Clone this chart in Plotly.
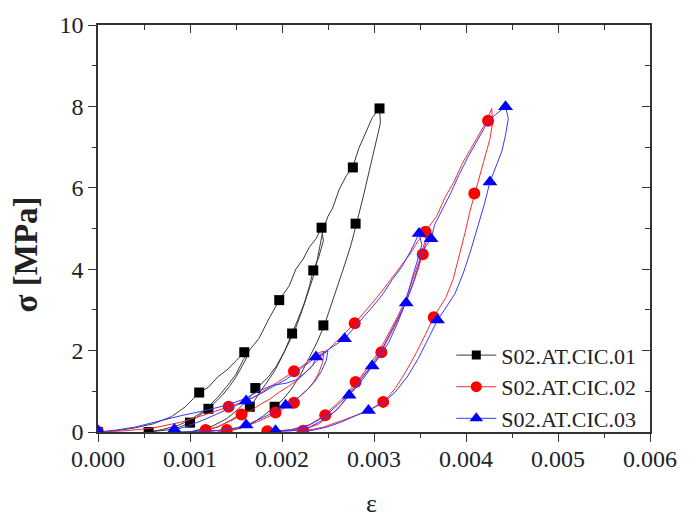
import plotly.graph_objects as go

# ---------------- data (strain, stress MPa) ----------------
# S02.AT.CIC.01 : load1, unload1, load2, unload2, load3, unload3
eps_01 = [
    0.0, 0.0002, 0.0004, 0.0006, 0.0008, 0.00095, 0.0011, 0.0012, 0.0013, 0.0014, 0.0015, 0.00159, 0.00163,
    0.00161, 0.00155, 0.0015, 0.00143, 0.00135, 0.00126, 0.00119, 0.0011, 0.00099, 0.0009, 0.00075, 0.00055,
    0.0007, 0.00088, 0.001, 0.00112, 0.0012, 0.0013, 0.0014, 0.0015, 0.00158, 0.00166, 0.00175, 0.00185, 0.00197,
    0.00208, 0.00215, 0.00223, 0.0023, 0.00237, 0.00243,
    0.00245, 0.0024, 0.00234, 0.0023, 0.00224, 0.00217, 0.00211, 0.00203, 0.00194, 0.00185, 0.00173, 0.00163,
    0.00152, 0.0014, 0.00125, 0.0011, 0.001,
    0.00115, 0.0013, 0.00145, 0.00157, 0.00166, 0.00175, 0.00183, 0.00192, 0.002, 0.00208, 0.00214, 0.00222,
    0.00229, 0.00236, 0.00241, 0.00245, 0.0025, 0.00255, 0.00262, 0.0027, 0.00277, 0.00284, 0.0029, 0.00298, 0.00306,
    0.00307, 0.00304, 0.003, 0.00295, 0.00289, 0.00281, 0.00275, 0.00268, 0.0026, 0.00253, 0.00246, 0.00238,
    0.0023, 0.0022, 0.0021, 0.00201, 0.00192, 0.0018, 0.00168, 0.00155, 0.0014, 0.0013,
]
sig_01 = [
    0.0, 0.03, 0.1, 0.2, 0.38, 0.62, 0.97, 1.1, 1.35, 1.52, 1.75, 1.96, 2.02,
    1.8, 1.55, 1.35, 1.12, 0.9, 0.7, 0.57, 0.4, 0.23, 0.13, 0.05, 0.0,
    0.06, 0.17, 0.3, 0.47, 0.62, 0.85, 1.12, 1.42, 1.78, 2.05, 2.3, 2.75, 3.24,
    3.6, 4.0, 4.25, 4.55, 4.75, 5.02,
    4.7, 4.3, 3.98, 3.6, 3.15, 2.75, 2.42, 2.0, 1.62, 1.35, 1.08, 0.8,
    0.55, 0.33, 0.15, 0.05, 0.0,
    0.04, 0.12, 0.3, 0.47, 0.62, 0.95, 1.2, 1.5, 1.85, 2.2, 2.5, 3.0,
    3.5, 3.95, 4.55, 5.0, 5.3, 5.5, 5.95, 6.3, 6.52, 7.0, 7.3, 7.72, 7.95,
    7.6, 7.3, 6.9, 6.45, 5.85, 5.12, 4.6, 4.1, 3.55, 3.05, 2.62, 2.2,
    1.85, 1.4, 1.05, 0.8, 0.62, 0.4, 0.22, 0.09, 0.02, 0.0,
]
mk_eps_01 = [0.0, 0.00055, 0.001, 0.0011, 0.0012, 0.00159, 0.00171, 0.00165, 0.00192, 0.00197,
             0.00211, 0.00234, 0.00243, 0.00245, 0.00277, 0.0028, 0.00306]
mk_sig_01 = [0.0, 0.0, 0.23, 0.97, 0.57, 1.96, 1.08, 0.62, 0.62, 3.24,
             2.42, 3.97, 5.02, 2.62, 6.5, 5.12, 7.95]

# S02.AT.CIC.02
eps_02 = [
    0.0, 0.0003, 0.0006, 0.0009, 0.0012, 0.00142, 0.00155, 0.00169, 0.00183, 0.00197, 0.00212, 0.00222, 0.00232,
    0.0024, 0.00246,
    0.00244, 0.0024, 0.00235, 0.00228, 0.0022, 0.00212, 0.00202, 0.00192, 0.0018, 0.00168, 0.00155, 0.0014,
    0.00125, 0.0011,
    0.00117, 0.0013, 0.00143, 0.00156, 0.00168, 0.00178, 0.00187, 0.00197, 0.00207, 0.00218, 0.00228, 0.00238,
    0.00248, 0.00258, 0.00268, 0.00279, 0.0029, 0.003, 0.0031, 0.0032, 0.0033, 0.0034, 0.00348, 0.00356,
    0.00357, 0.00353, 0.00348, 0.00342, 0.00335, 0.00327, 0.00318, 0.00308, 0.00298, 0.00289, 0.0028, 0.00271,
    0.0026, 0.0025, 0.0024, 0.0023, 0.0021, 0.00184,
    0.002, 0.00223, 0.0024, 0.00255, 0.00266, 0.00276, 0.00286, 0.00296, 0.00306, 0.00316, 0.00326, 0.00335,
    0.00342, 0.00349, 0.00355, 0.0036, 0.00368, 0.00378, 0.00387, 0.00396, 0.00405, 0.00414, 0.00422, 0.00428,
    0.00429, 0.00426, 0.00421, 0.00415, 0.00409, 0.00404, 0.00399, 0.00393, 0.00386, 0.00378, 0.00371, 0.00365,
    0.00356, 0.00346, 0.00335, 0.00324, 0.00315, 0.00309, 0.00298, 0.00285, 0.0027, 0.00258, 0.00245, 0.0023,
    0.00215,
]
sig_02 = [
    0.0, 0.03, 0.1, 0.24, 0.45, 0.61, 0.72, 0.85, 1.06, 1.25, 1.47, 1.62, 1.8,
    1.95, 1.99,
    1.7, 1.45, 1.25, 1.05, 0.88, 0.73, 0.58, 0.45, 0.32, 0.2, 0.11, 0.05,
    0.02, 0.0,
    0.04, 0.13, 0.26, 0.41, 0.55, 0.7, 0.81, 0.98, 1.12, 1.3, 1.52, 1.75,
    1.98, 2.18, 2.42, 2.67, 2.95, 3.22, 3.5, 3.8, 4.1, 4.4, 4.7, 4.92,
    4.7, 4.38, 4.0, 3.6, 3.2, 2.8, 2.4, 1.97, 1.6, 1.4, 1.22, 0.95,
    0.7, 0.5, 0.32, 0.18, 0.06, 0.0,
    0.02, 0.05, 0.2, 0.45, 0.72, 1.05, 1.35, 1.68, 2.0, 2.42, 2.85, 3.3,
    3.75, 4.2, 4.65, 5.05, 5.3, 5.8, 6.15, 6.6, 6.95, 7.3, 7.62, 7.95,
    7.6, 7.2, 6.8, 6.3, 5.86, 5.4, 4.9, 4.35, 3.75, 3.3, 3.05, 2.83,
    2.4, 1.95, 1.5, 1.1, 0.85, 0.74, 0.58, 0.45, 0.32, 0.22, 0.12, 0.05,
    0.0,
]
mk_eps_02 = [0.0, 0.00117, 0.0014, 0.00142, 0.00156, 0.00184, 0.00193, 0.00213, 0.00213, 0.00223,
             0.00247, 0.00279, 0.0028, 0.00308, 0.0031, 0.00353, 0.00356, 0.00365, 0.00409, 0.00424]
mk_sig_02 = [0.0, 0.05, 0.05, 0.62, 0.43, 0.02, 0.48, 0.72, 1.49, 0.03,
             0.41, 2.67, 1.23, 1.96, 0.74, 4.37, 4.92, 2.82, 5.86, 7.65]

# S02.AT.CIC.03
eps_03 = [
    0.0, 0.0002, 0.0004, 0.00068, 0.0009, 0.00115, 0.0014, 0.0016, 0.00176, 0.0019, 0.00205, 0.00215, 0.00225,
    0.00233, 0.00237, 0.00245, 0.0025,
    0.00248, 0.00243, 0.00236, 0.00228, 0.00218, 0.00204, 0.00192, 0.0018, 0.0017, 0.00161, 0.0015, 0.0013,
    0.0011, 0.00085,
    0.00083, 0.00098, 0.00115, 0.0013, 0.00145, 0.00161, 0.00175, 0.0019, 0.00205, 0.0022, 0.00237, 0.0025,
    0.00268, 0.0028, 0.0029, 0.003, 0.0031, 0.0032, 0.0033, 0.0034, 0.00349,
    0.00352, 0.00347, 0.00341, 0.00334, 0.00326, 0.00316, 0.00306, 0.00298, 0.00288, 0.00279, 0.00271, 0.0026,
    0.0025, 0.0024, 0.00228, 0.0021, 0.00193,
    0.0021, 0.0023, 0.00245, 0.0026, 0.00273, 0.00285, 0.00296, 0.00308, 0.00318, 0.00327, 0.00335, 0.00343,
    0.0035, 0.00356, 0.00362, 0.00366, 0.00374, 0.00383, 0.00392, 0.00402, 0.00412, 0.00422, 0.00432, 0.00443,
    0.00446, 0.00443, 0.00439, 0.00432, 0.00426, 0.0042, 0.00413, 0.00405, 0.00397, 0.00388, 0.00378, 0.00369,
    0.00358, 0.00348, 0.00336, 0.00323, 0.0031, 0.00294, 0.0028, 0.00265, 0.0025, 0.00235, 0.0022,
]
sig_03 = [
    0.0, 0.05, 0.12, 0.28, 0.4, 0.52, 0.66, 0.82, 1.02, 1.15, 1.2, 1.28, 1.45,
    1.62, 1.82, 1.92, 2.0,
    1.75, 1.5, 1.25, 1.05, 0.85, 0.66, 0.5, 0.36, 0.25, 0.17, 0.1, 0.04,
    0.02, 0.0,
    0.05, 0.15, 0.3, 0.45, 0.6, 0.76, 0.92, 1.1, 1.3, 1.55, 1.84, 2.02,
    2.29, 2.6, 2.85, 3.12, 3.4, 3.75, 4.05, 4.45, 4.88,
    4.6, 4.2, 3.75, 3.16, 2.7, 2.2, 1.85, 1.62, 1.3, 1.05, 0.88, 0.65,
    0.45, 0.3, 0.15, 0.05, 0.02,
    0.03, 0.12, 0.3, 0.55, 0.9, 1.25, 1.6, 2.0, 2.45, 2.85, 3.2, 3.7,
    4.2, 4.55, 4.75, 5.1, 5.45, 5.85, 6.3, 6.75, 7.15, 7.55, 7.8, 7.99,
    7.7, 7.3, 6.9, 6.5, 6.14, 5.6, 5.05, 4.45, 3.9, 3.4, 3.05, 2.75,
    2.25, 1.8, 1.35, 0.98, 0.72, 0.53, 0.4, 0.25, 0.13, 0.05, 0.0,
]
mk_eps_03 = [0.0, 0.00083, 0.00161, 0.00161, 0.00193, 0.00204, 0.00237, 0.00268, 0.00273, 0.00294,
             0.00298, 0.00335, 0.00349, 0.00362, 0.00369, 0.00426, 0.00443]
mk_sig_03 = [0.03, 0.06, 0.76, 0.17, 0.03, 0.66, 1.84, 2.29, 0.9, 0.53,
             1.62, 3.17, 4.88, 4.75, 2.75, 6.14, 7.99]

series_names = ["S02.AT.CIC.01", "S02.AT.CIC.02", "S02.AT.CIC.03"]
x_ticks = [0.0, 0.001, 0.002, 0.003, 0.004, 0.005, 0.006]
x_ticklabels = ["0.000", "0.001", "0.002", "0.003", "0.004", "0.005", "0.006"]
y_ticks = [0, 2, 4, 6, 8, 10]

# ---------------- figure ----------------
FONT = "'Liberation Serif', 'Times New Roman', serif"
styles = [
    dict(line="#3a3a3a", mcolor="#000000", symbol="square", size=10),
    dict(line="#ff2a2a", mcolor="#ff0000", symbol="circle", size=12),
    dict(line="#3a3aff", mcolor="#0000ff", symbol="triangle-up", size=13),
]
data = [(eps_01, sig_01, mk_eps_01, mk_sig_01),
        (eps_02, sig_02, mk_eps_02, mk_sig_02),
        (eps_03, sig_03, mk_eps_03, mk_sig_03)]

fig = go.Figure()
for name, (xs, ys, mx, my), st in zip(series_names, data, styles):
    fig.add_trace(go.Scatter(x=xs, y=ys, mode="lines", line=dict(color=st["line"], width=1),
                             showlegend=False, hoverinfo="skip", legendgroup=name))
    fig.add_trace(go.Scatter(x=mx, y=my, mode="markers",
                             marker=dict(symbol=st["symbol"], size=st["size"], color=st["mcolor"],
                                         line=dict(width=0)),
                             showlegend=False, legendgroup=name))
for name, st in zip(series_names, styles):
    fig.add_trace(go.Scatter(x=[None], y=[None], mode="lines+markers", name=name,
                             line=dict(color=st["line"], width=1),
                             marker=dict(symbol=st["symbol"], size=st["size"] - 1, color=st["mcolor"]),
                             legendgroup=name))
# dummy trace to host the mirrored (top/right) axes
fig.add_trace(go.Scatter(x=[None], y=[None], xaxis="x2", yaxis="y2", showlegend=False, hoverinfo="skip"))

axcol = "#333333"
tickfont = dict(family=FONT, size=24, color="#222222")
fig.update_layout(
    width=689, height=520,
    margin=dict(l=98, r=33, t=18, b=88),
    paper_bgcolor="white", plot_bgcolor="white",
    xaxis=dict(range=[0, 0.006], tickvals=x_ticks, ticktext=x_ticklabels,
               ticks="outside", ticklen=8, tickwidth=1.2, tickcolor=axcol,
               showline=True, linecolor=axcol, linewidth=1.5,
               showgrid=False, zeroline=False, tickfont=tickfont, ticklabelstandoff=-4,
               minor=dict(ticks="outside", ticklen=4, tickwidth=1.2, tickcolor=axcol,
                          tick0=0, dtick=0.0005, showgrid=False)),
    yaxis=dict(range=[0, 10], tickvals=y_ticks,
               ticks="outside", ticklen=8, tickwidth=1.2, tickcolor=axcol,
               showline=True, linecolor=axcol, linewidth=1.5,
               showgrid=False, zeroline=False, tickfont=tickfont,
               minor=dict(ticks="outside", ticklen=4, tickwidth=1.2, tickcolor=axcol,
                          tick0=0, dtick=1, showgrid=False)),
    xaxis2=dict(range=[0, 0.006], overlaying="x", side="top", anchor="y2",
                tickvals=x_ticks, showticklabels=False,
                ticks="inside", ticklen=8, tickwidth=1.2, tickcolor=axcol,
                showline=True, linecolor=axcol, linewidth=1.5,
                showgrid=False, zeroline=False,
                minor=dict(ticks="inside", ticklen=5, tickwidth=1.2, tickcolor=axcol,
                           tick0=0, dtick=0.0005, showgrid=False)),
    yaxis2=dict(range=[0, 10], overlaying="y", side="right", anchor="x2",
                tickvals=y_ticks, showticklabels=False,
                ticks="inside", ticklen=8, tickwidth=1.2, tickcolor=axcol,
                showline=True, linecolor=axcol, linewidth=1.5,
                showgrid=False, zeroline=False,
                minor=dict(ticks="inside", ticklen=5, tickwidth=1.2, tickcolor=axcol,
                           tick0=0, dtick=1, showgrid=False)),
    legend=dict(x=0.64, y=0.24, xanchor="left", yanchor="top",
                font=dict(family=FONT, size=22, color="#222222"),
                bgcolor="rgba(0,0,0,0)", tracegroupgap=0, itemwidth=40),
    annotations=[
        dict(text="<b>σ [MPa]</b>", textangle=-90, xref="paper", yref="paper",
             x=-0.13, y=0.437, xanchor="center", yanchor="middle", showarrow=False,
             font=dict(family=FONT, size=33, color="#222222")),
        dict(text="ε", xref="paper", yref="paper", x=0.496, y=-0.176,
             xanchor="center", yanchor="middle", showarrow=False,
             font=dict(family=FONT, size=26, color="#222222")),
    ],
)

fig.write_html("out.html")
